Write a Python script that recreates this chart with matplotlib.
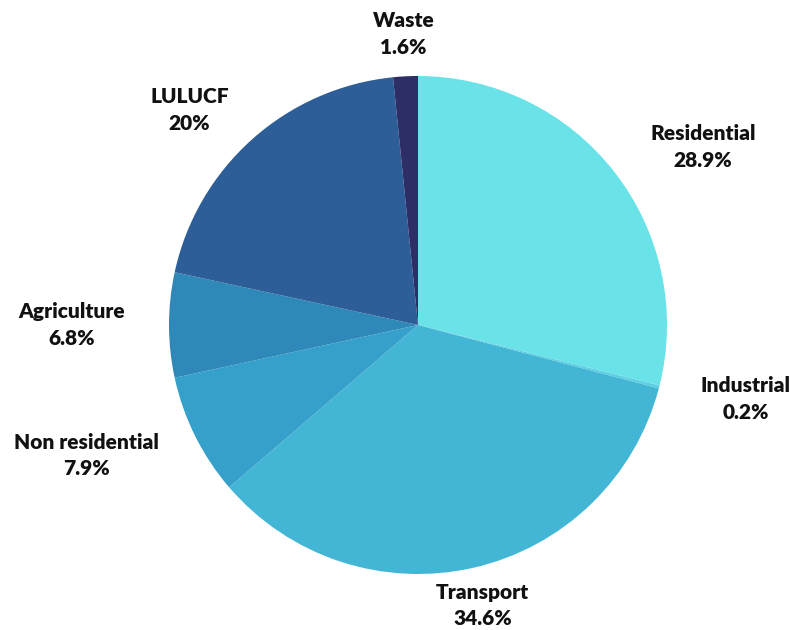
import numpy as np
import matplotlib.pyplot as plt

# Emission shares by sector (%)
sectors = ['Residential', 'Industrial', 'Transport', 'Non residential',
           'Agriculture', 'LULUCF', 'Waste']
shares = [28.9, 0.2, 34.6, 7.9, 6.8, 20, 1.6]
share_labels = ['28.9%', '0.2%', '34.6%', '7.9%', '6.8%', '20%', '1.6%']
colors = ['#69e3e8', '#5fd0e4', '#43b6d6', '#35a0ca', '#2e89b9', '#2e5e98', '#2d2e66']

# how far out each label sits (in radii) and a small angular nudge (deg)
label_dist = [1.35, 1.35, 1.155, 1.43, 1.39, 1.26, 1.17]
label_nudge = [-6, 1.7, 0, -5, 0, 5, 0]

plt.rcParams['font.family'] = ['Lato', 'DejaVu Sans']

fig = plt.figure(figsize=(7.96, 6.30), dpi=100)
ax = fig.add_axes([0, 0, 1, 1])

wedges, _ = ax.pie(shares, colors=colors, startangle=90, counterclock=False,
                   radius=1, wedgeprops=dict(linewidth=0))

for w, name, lab, d, nudge in zip(wedges, sectors, share_labels, label_dist, label_nudge):
    ang = np.deg2rad((w.theta1 + w.theta2) / 2 + nudge)
    x, y = d * np.cos(ang), d * np.sin(ang)
    ax.text(x, y, f'{name}\n{lab}', ha='center', va='center', fontsize=15,
            fontweight='heavy', color='#111111', linespacing=1.45)

ax.set_xlim(-418 / 249, (796 - 418) / 249)
ax.set_ylim(-(630 - 325) / 249, 325 / 249)
ax.set_aspect('equal')
ax.axis('off')

fig.savefig('out.png', dpi=100, facecolor='white')
